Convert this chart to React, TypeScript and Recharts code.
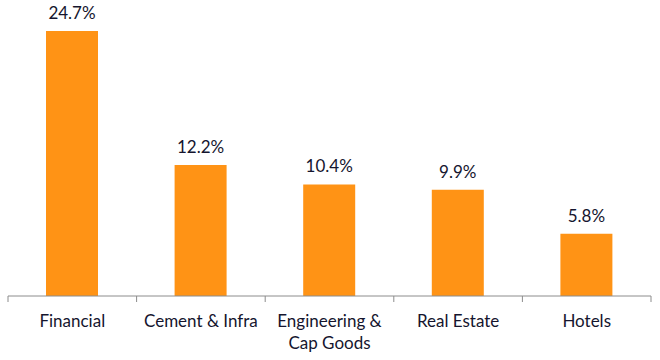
import { BarChart, Bar, XAxis, YAxis, LabelList } from 'recharts'

const categories = ['Financial', 'Cement & Infra', 'Engineering &\nCap Goods', 'Real Estate', 'Hotels']
const shares = [24.7, 12.2, 10.4, 9.9, 5.8]
const boundaryTicks = [0, 1, 2, 3, 4, 5]

const data = categories.map((name, i) => ({ name, value: shares[i], pos: i + 0.5 }))

const TEXT = '#15152e'
const FONT = 'Lato, "Open Sans", sans-serif'

function CategoryTick({ x, y, payload }: any) {
  const lines = String(payload.value).split('\n')
  return (
    <text x={x} y={y + 22} textAnchor="middle" fill={TEXT} fontSize={17} fontFamily={FONT}>
      {lines.map((line, i) => (
        <tspan key={i} x={x} dy={i === 0 ? 0 : 22}>
          {line}
        </tspan>
      ))}
    </text>
  )
}

export default function App() {
  return (
    <div style={{ position: 'absolute', left: 0, top: 0, width: 660, height: 360, background: '#fff' }}>
      <BarChart width={660} height={360} data={data} margin={{ top: 31, right: 9, bottom: 0, left: 8 }}>
        {/* boundary tick marks between categories */}
        <XAxis
          xAxisId="a"
          dataKey="pos"
          type="number"
          domain={[0, 5]}
          ticks={boundaryTicks}
          height={1}
          tickSize={6}
          tickFormatter={() => ''}
          axisLine={{ stroke: '#8c8c8c' }}
          tickLine={{ stroke: '#8c8c8c' }}
          allowDataOverflow
        />
        <XAxis
          xAxisId="b"
          dataKey="name"
          height={63}
          axisLine={false}
          tickLine={false}
          interval={0}
          tick={<CategoryTick />}
        />
        <YAxis hide domain={[0, 24.7]} />
        <Bar xAxisId="b" dataKey="value" fill="#ff9315" barSize={52} isAnimationActive={false}>
          <LabelList
            dataKey="value"
            position="top"
            offset={12}
            formatter={(v: any) => `${Number(v).toFixed(1)}%`}
            fill={TEXT}
            fontSize={17}
            fontFamily={FONT}
          />
        </Bar>
      </BarChart>
    </div>
  )
}
